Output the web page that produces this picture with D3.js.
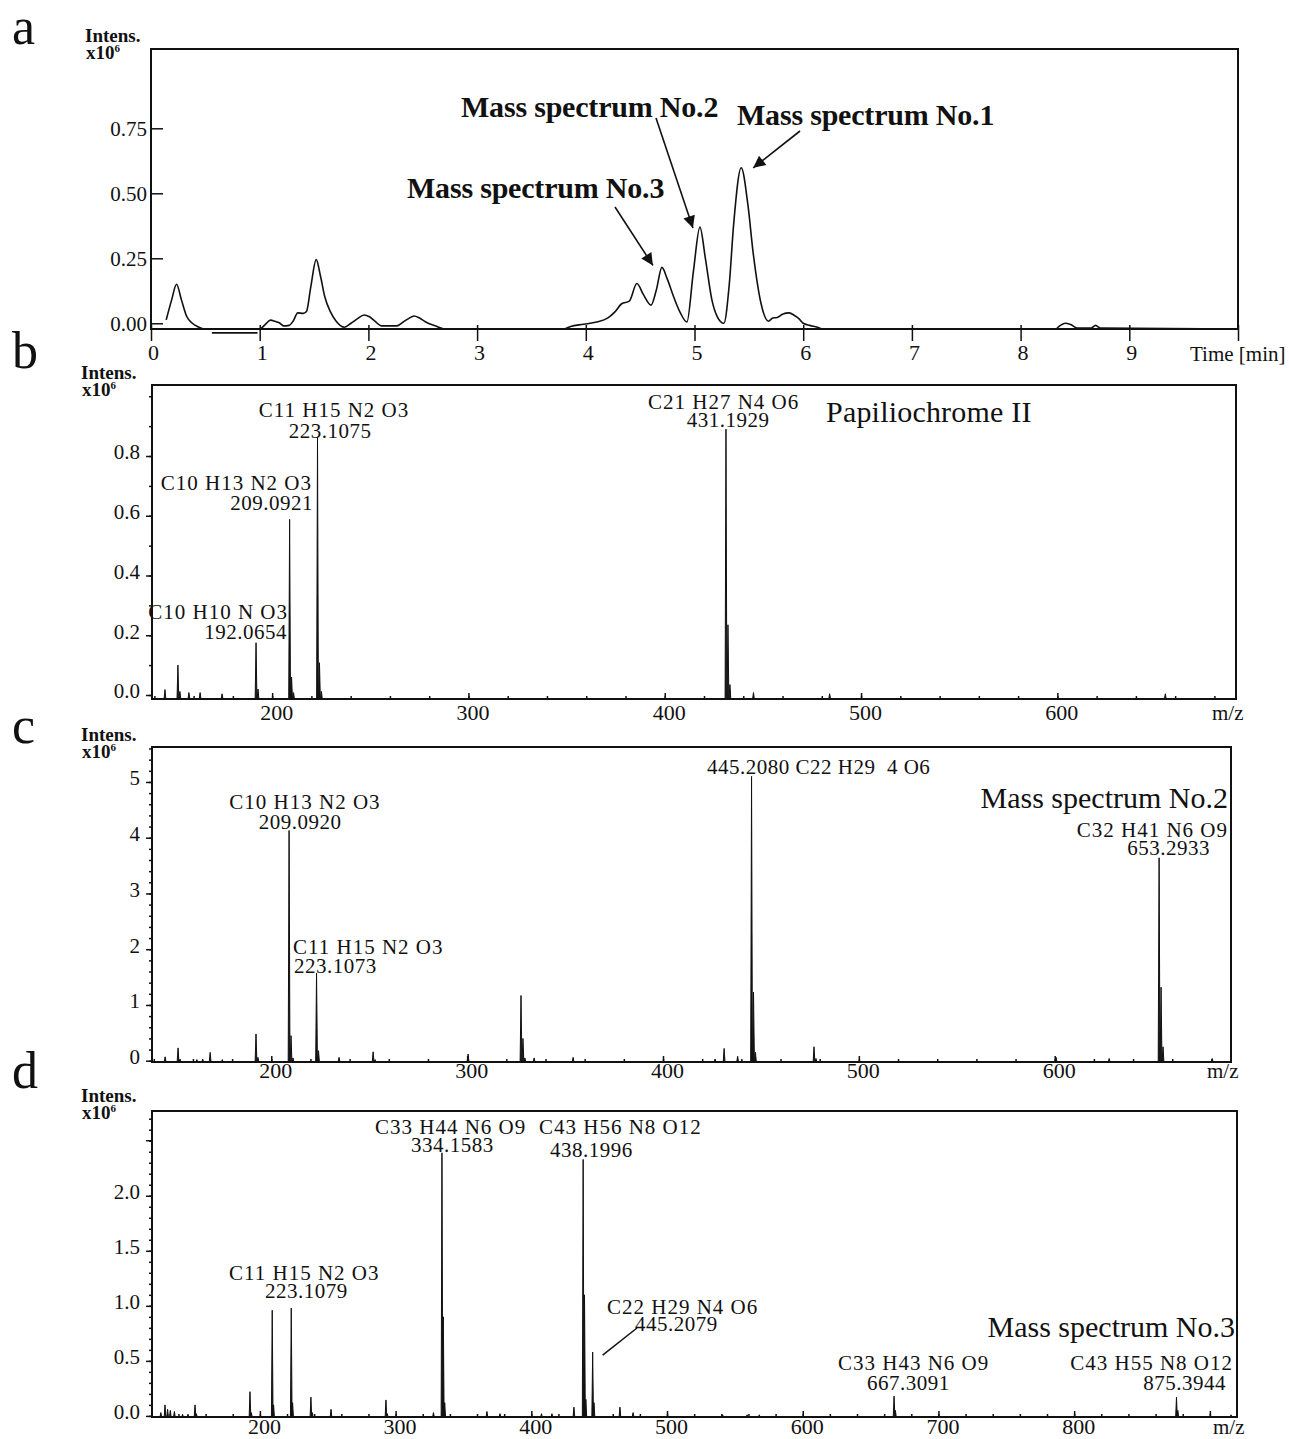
<!DOCTYPE html>
<html>
<head>
<meta charset="utf-8">
<script src="https://cdn.jsdelivr.net/npm/d3@7"></script>
<style>
  body { margin: 0; background: #fff; }
  text { font-family: "Liberation Serif", "Times New Roman", serif; fill: #111; }
</style>
</head>
<body>
<div id="chart"></div>
<script>
var W = 1289, H = 1439;

// ---- panel a : chromatogram (time in min, intensity x10^6)
var timeMin = [0.14, 0.19, 0.235, 0.28, 0.33, 0.38, 0.43, 0.50, 1.00, 1.05, 1.10, 1.14, 1.18, 1.22, 1.27, 1.31, 1.35, 1.40, 1.43, 1.47,
  1.52, 1.56, 1.60, 1.65, 1.70, 1.78, 1.84, 1.90, 1.96, 2.01, 2.06, 2.12, 2.26, 2.32, 2.37, 2.42, 2.47, 2.52, 2.58, 2.63, 2.70,
  3.80, 3.86, 3.98, 4.10, 4.20, 4.27, 4.33, 4.40, 4.47, 4.53, 4.60, 4.65, 4.70, 4.75, 4.81, 4.87, 4.93, 4.99, 5.05, 5.10, 5.16,
  5.21, 5.27, 5.32, 5.36, 5.43, 5.49, 5.54, 5.61, 5.68, 5.72, 5.76, 5.81, 5.87, 5.92, 5.96, 6.00, 6.06, 6.13, 6.18, 8.32, 8.36,
  8.41, 8.46, 8.52, 8.65, 8.69, 8.73, 10.0];
var intensA = [0.013, 0.09, 0.15, 0.09, 0.025, 0.0, -0.013, -0.022, -0.022, -0.005, 0.012, 0.008, 0.002, -0.01, -0.008, 0.01, 0.04, 0.038, 0.045, 0.14,
  0.245, 0.18, 0.10, 0.045, 0.01, -0.015, 0.0, 0.018, 0.032, 0.025, 0.008, -0.01, -0.01, 0.005, 0.018, 0.028, 0.02, 0.007, -0.005, -0.012, -0.022,
  -0.022, -0.012, -0.004, 0.005, 0.02, 0.045, 0.075, 0.085, 0.153, 0.11, 0.07, 0.13, 0.215, 0.17, 0.10, 0.04, 0.005, 0.2, 0.37, 0.25, 0.09,
  0.025, 0.0, 0.15, 0.38, 0.598, 0.46, 0.27, 0.08, 0.008, 0.02, 0.022, 0.035, 0.04, 0.03, 0.018, 0.0, -0.008, -0.015, -0.022, -0.022, -0.01,
  0.0, -0.005, -0.018, -0.018, -0.008, -0.018, -0.022];
var strayTime = [0.56, 0.98];      // short stray trace piece below the baseline
var strayLevel = [-0.037, -0.037];
var timeTicks = [0, 1, 2, 3, 4, 5, 6, 7, 8, 9, 10];
var intensTicksA = [0, 0.25, 0.5, 0.75];

// chromatogram peak call-outs
var calloutText = ["Mass spectrum No.2", "Mass spectrum No.1", "Mass spectrum No.3"];
var calloutTime = [5.05, 5.43, 4.70];
var calloutPeak = [0.37, 0.598, 0.215];

// ---- panel b : Papiliochrome II
var mzB = [145.4, 152.0, 153.0, 157.6, 163.3, 174.5, 191.8, 192.8, 208.9, 209.9, 210.9, 223.11, 224.11, 225.1, 431.19, 432.2, 433.2, 445.2, 484, 655];
var intB = [0.018, 0.10, 0.012, 0.008, 0.008, 0.004, 0.175, 0.02, 0.588, 0.06, 0.008, 0.864, 0.108, 0.012, 0.89, 0.235, 0.035, 0.008, 0.004, 0.004];

// ---- panel c : mass spectrum No.2
var mzC = [145.8, 152.4, 153.4, 162, 165, 168.8, 175, 192.2, 193.2, 209.09, 210.09, 211.1, 223.11, 224.11, 234.6, 252.0, 253.0, 300.5,
  327.5, 328.5, 329.5, 334.2, 354.1, 426.6, 431.2, 438.1, 445.21, 446.21, 447.2, 477.1, 478.1, 600.7, 627.8, 653.29, 654.3, 655.3, 680.4];
var intC = [0.07, 0.23, 0.03, 0.02, 0.03, 0.15, 0.02, 0.48, 0.06, 4.13, 0.45, 0.05, 1.57, 0.18, 0.06, 0.16, 0.02, 0.12,
  1.17, 0.40, 0.05, 0.05, 0.06, 0.03, 0.22, 0.08, 5.10, 1.23, 0.15, 0.25, 0.04, 0.06, 0.04, 3.64, 1.32, 0.25, 0.04];

// ---- panel d : mass spectrum No.3
var mzD = [127, 130.1, 132, 134, 137, 143, 147, 152.2, 153.2, 192.7, 193.7, 209.09, 210.09, 223.11, 224.11, 237.6, 238.6, 252.4, 292.9, 293.9,
  327.9, 334.16, 335.16, 336.2, 367.3, 376.9, 407.5, 415.2, 431.4, 438.2, 439.2, 440.2, 445.21, 446.2, 465.3, 475, 541, 559, 568,
  667.3, 668.3, 875.4, 876.4, 915.6];
var intD = [0.03, 0.10, 0.06, 0.05, 0.04, 0.015, 0.015, 0.10, 0.02, 0.22, 0.03, 0.96, 0.10, 0.98, 0.12, 0.17, 0.03, 0.06, 0.145, 0.02,
  0.03, 2.39, 0.9, 0.12, 0.04, 0.02, 0.02, 0.02, 0.08, 2.33, 1.1, 0.15, 0.58, 0.12, 0.08, 0.03, 0.01, 0.01, 0.01,
  0.18, 0.05, 0.17, 0.05, 0.01];

var svg = d3.select("#chart").append("svg")
    .attr("width", W)
    .attr("height", H);

var ink = "#111";

// plot boxes
var boxA = {l: 151, r: 1238, t: 49, b: 329};
var boxB = {l: 152, r: 1236, t: 385, b: 699};
var boxC = {l: 152, r: 1231, t: 747, b: 1062};
var boxD = {l: 152, r: 1237, t: 1111, b: 1417};

var xA = d3.scaleLinear().domain([0, 10]).range([boxA.l, boxA.r]);
var yA = d3.scaleLinear().domain([-0.022, 1.055]).range([boxA.b, boxA.t]);
var xB = d3.scaleLinear().domain([138.8, 691]).range([boxB.l, boxB.r]);
var yB = d3.scaleLinear().domain([-0.0134, 1.0377]).range([boxB.b, boxB.t]);
var xC = d3.scaleLinear().domain([139.1, 690]).range([boxC.l, boxC.r]);
var yC = d3.scaleLinear().domain([-0.023, 5.627]).range([boxC.b, boxC.t]);
var xD = d3.scaleLinear().domain([120.5, 920]).range([boxD.l, boxD.r]);
var yD = d3.scaleLinear().domain([-0.01, 2.77]).range([boxD.b, boxD.t]);

function frame(box) {
  svg.append("rect")
     .attr("x", box.l).attr("y", box.t)
     .attr("width", box.r - box.l).attr("height", box.b - box.t)
     .attr("fill", "none").attr("stroke", ink).attr("stroke-width", 2);
}

function cleanAxis(g) {
  g.select(".domain").remove();
  g.selectAll(".tick line").attr("stroke", ink).attr("stroke-width", 1.5);
  g.selectAll("text").attr("fill", ink).attr("font-family", null);
}

// left axis with outward ticks (b, c, d)
function leftAxis(box, y, major, minor, fmt) {
  var gm = svg.append("g").attr("transform", "translate(" + box.l + ",0)")
      .call(d3.axisLeft(y).tickValues(minor).tickSize(3).tickFormat(""));
  cleanAxis(gm);
  var g = svg.append("g").attr("transform", "translate(" + box.l + ",0)")
      .call(d3.axisLeft(y).tickValues(major).tickSize(6).tickPadding(6).tickFormat(fmt));
  cleanAxis(g);
  g.selectAll("text").attr("font-size", 21).attr("dy", "0.14em");
}

// bottom m/z axis with inward ticks; labels only up to the last one shown
function mzAxis(box, x, labelGap, lastLabel) {
  var dom = x.domain();
  var minor = d3.range(Math.ceil(dom[0] / 20) * 20, dom[1], 20);
  var major = minor.filter(function(v){ return v % 100 === 0; });
  var gm = svg.append("g").attr("transform", "translate(0," + box.b + ")")
      .call(d3.axisBottom(x).tickValues(minor).tickSize(-3).tickFormat(""));
  cleanAxis(gm);
  var g = svg.append("g").attr("transform", "translate(0," + box.b + ")")
      .call(d3.axisBottom(x).tickValues(major).tickSize(-6)
        .tickFormat(function(d){ return d <= lastLabel ? d : ""; }));
  cleanAxis(g);
  g.selectAll("text").attr("font-size", 22).attr("y", labelGap).attr("dy", 0).attr("dx", 4);
  svg.append("text")
     .attr("x", box.r - 24).attr("y", box.b + labelGap)
     .attr("font-size", 21)
     .text("m/z");
}

function intensLabel(x, y) {
  svg.append("text").attr("x", x).attr("y", y)
     .attr("font-size", 19).attr("font-weight", "bold")
     .text("Intens.");
  var t = svg.append("text").attr("x", x + 1).attr("y", y + 17)
     .attr("font-size", 19).attr("font-weight", "bold")
     .text("x10");
  t.append("tspan").attr("font-size", 11).attr("dy", -7).text("6");
}

function panelLetter(ch, y) {
  svg.append("text").attr("x", 12).attr("y", y)
     .attr("font-size", 52)
     .text(ch);
}

// spectrum sticks, drawn as thin filled spikes from the axis
function spectrum(mz, inten, x, y, box, halfWidth) {
  var line = d3.line().x(function(d){ return x(d[0]); }).y(function(d){ return d[1]; });
  var peaks = mz.map(function(m, i){ return {mz: m, v: inten[i]}; });
  svg.append("g").selectAll("path")
     .data(peaks)
     .enter()
     .append("path")
     .attr("d", function(p){
        return line([[p.mz - halfWidth, box.b], [p.mz, y(p.v)], [p.mz + halfWidth, box.b]]);
     })
     .attr("fill", ink)
     .attr("stroke", ink)
     .attr("stroke-width", 1)
     .attr("stroke-linejoin", "miter");
}

// formula / mass labels
function label(x, y, txt, anchor, size, spacing) {
  svg.append("text")
     .attr("x", x).attr("y", y)
     .attr("font-size", size || 21)
     .attr("text-anchor", anchor || "start")
     .style("letter-spacing", (spacing === undefined ? 1 : spacing) + "px")
     .style("white-space", "pre")
     .text(txt);
}

// ================= panel a =================
panelLetter("a", 44);
intensLabel(85, 42);
frame(boxA);

var gyA = svg.append("g").attr("transform", "translate(" + boxA.l + ",0)")
    .call(d3.axisLeft(yA).tickValues(intensTicksA).tickSize(-12).tickPadding(4).tickFormat(d3.format(".2f")));
cleanAxis(gyA);
gyA.selectAll("text").attr("font-size", 21);

var gxA = svg.append("g").attr("transform", "translate(0," + boxA.b + ")")
    .call(d3.axisBottom(xA).tickValues(timeTicks).tickSize(12)
      .tickFormat(function(d){ return d < 10 ? d : ""; }));
cleanAxis(gxA);
gxA.selectAll(".tick line").attr("y1", -4);
gxA.selectAll("text").attr("font-size", 22).attr("y", 31).attr("dy", 0).attr("dx", 2);
svg.append("text").attr("x", 1190).attr("y", 361).attr("font-size", 21).text("Time [min]");

var chromLine = d3.line()
    .x(function(d){ return xA(d[0]); })
    .y(function(d){ return yA(d[1]); })
    .curve(d3.curveMonotoneX);

svg.append("path")
   .datum(timeMin.map(function(t, i){ return [t, intensA[i]]; }))
   .attr("d", chromLine)
   .attr("fill", "none")
   .attr("stroke", ink)
   .attr("stroke-width", 1.6);

svg.append("path")
   .datum(strayTime.map(function(t, i){ return [t, strayLevel[i]]; }))
   .attr("d", chromLine)
   .attr("fill", "none")
   .attr("stroke", ink)
   .attr("stroke-width", 1.6);

// arrow heads
svg.append("defs").append("marker")
   .attr("id", "head")
   .attr("viewBox", "0 0 10 10")
   .attr("refX", 10).attr("refY", 5)
   .attr("markerWidth", 16).attr("markerHeight", 12)
   .attr("markerUnits", "userSpaceOnUse")
   .attr("orient", "auto")
   .append("path")
   .attr("d", "M0,0 L10,5 L0,10 Z")
   .attr("fill", ink);

// call-out text positions and arrow geometry (pixel offsets from the peak apex)
var calloutLayout = [
  {tx: 461, ty: 117, tipDx: -7,  tipDy: 1,  tailX: 656, tailY: 118},
  {tx: 737, ty: 125, tipDx: 12,  tipDy: 0,  tailX: 800, tailY: 131},
  {tx: 407, ty: 198, tipDx: -9,  tipDy: -2, tailX: 615, tailY: 207}
];

calloutText.forEach(function(txt, i){
  var L = calloutLayout[i];
  svg.append("text")
     .attr("x", L.tx).attr("y", L.ty)
     .attr("font-size", 30)
     .attr("font-weight", "bold")
     .style("letter-spacing", "-0.2px")
     .text(txt);
  svg.append("line")
     .attr("x1", L.tailX).attr("y1", L.tailY)
     .attr("x2", xA(calloutTime[i]) + L.tipDx)
     .attr("y2", yA(calloutPeak[i]) + L.tipDy)
     .attr("stroke", ink)
     .attr("stroke-width", 1.6)
     .attr("marker-end", "url(#head)");
});

// ================= panel b =================
panelLetter("b", 368);
intensLabel(81, 379);
spectrum(mzB, intB, xB, yB, boxB, 0.45);
frame(boxB);
leftAxis(boxB, yB, [0, 0.2, 0.4, 0.6, 0.8], d3.range(0, 1.01, 0.1), d3.format(".1f"));
mzAxis(boxB, xB, 21, 600);

label(334, 417, "C11 H15 N2 O3", "middle");
label(330, 438, "223.1075", "middle", 21, 0.5);
label(312, 490, "C10 H13 N2 O3", "end");
label(313, 510, "209.0921", "end", 21, 0.5);
label(288, 619, "C10 H10 N O3", "end");
label(287, 639, "192.0654", "end", 21, 0.5);
label(648, 409, "C21 H27 N4 O6", "start");
label(728, 427, "431.1929", "middle", 21, 0.5);
label(826, 422, "Papiliochrome II", "start", 30, 0.2);

// ================= panel c =================
panelLetter("c", 743);
intensLabel(81, 741);
spectrum(mzC, intC, xC, yC, boxC, 0.45);
frame(boxC);
leftAxis(boxC, yC, [0, 1, 2, 3, 4, 5], d3.range(0, 5.61, 0.2), d3.format("d"));
mzAxis(boxC, xC, 16, 600);

label(305, 809, "C10 H13 N2 O3", "middle");
label(300, 829, "209.0920", "middle", 21, 0.5);
label(293, 954, "C11 H15 N2 O3", "start");
label(294, 973, "223.1073", "start", 21, 0.5);
label(707, 774, "445.2080 C22 H29  4 O6", "start", 21, 0.5);
label(1228, 808, "Mass spectrum No.2", "end", 30, 0);
label(1228, 837, "C32 H41 N6 O9", "end");
label(1210, 855, "653.2933", "end", 21, 0.5);

// ================= panel d =================
panelLetter("d", 1088);
intensLabel(81, 1102);
spectrum(mzD, intD, xD, yD, boxD, 0.6);
frame(boxD);
leftAxis(boxD, yD, [0, 0.5, 1.0, 1.5, 2.0], d3.range(0, 2.71, 0.1), d3.format(".1f"));
// unlabelled major tick at 2.5
svg.append("line")
   .attr("x1", boxD.l - 6).attr("x2", boxD.l)
   .attr("y1", yD(2.5)).attr("y2", yD(2.5))
   .attr("stroke", ink).attr("stroke-width", 1.5);
mzAxis(boxD, xD, 17, 800);

label(375, 1134, "C33 H44 N6 O9", "start");
label(411, 1152, "334.1583", "start", 21, 0.5);
label(539, 1134, "C43 H56 N8 O12", "start");
label(550, 1157, "438.1996", "start", 21, 0.5);
label(229, 1280, "C11 H15 N2 O3", "start");
label(265, 1298, "223.1079", "start", 21, 0.5);
label(607, 1314, "C22 H29 N4 O6", "start");
label(635, 1331, "445.2079", "start", 21, 0.5);
label(1235, 1337, "Mass spectrum No.3", "end", 30, 0);
label(838, 1370, "C33 H43 N6 O9", "start");
label(867, 1390, "667.3091", "start", 21, 0.5);
label(1233, 1370, "C43 H55 N8 O12", "end");
label(1226, 1390, "875.3944", "end", 21, 0.5);

// leader from the 445 peak to its label
svg.append("line")
   .attr("x1", xD(445.21) + 10).attr("y1", yD(0.58) + 3)
   .attr("x2", 637).attr("y2", 1328)
   .attr("stroke", ink).attr("stroke-width", 1.5);
</script>
</body>
</html>
